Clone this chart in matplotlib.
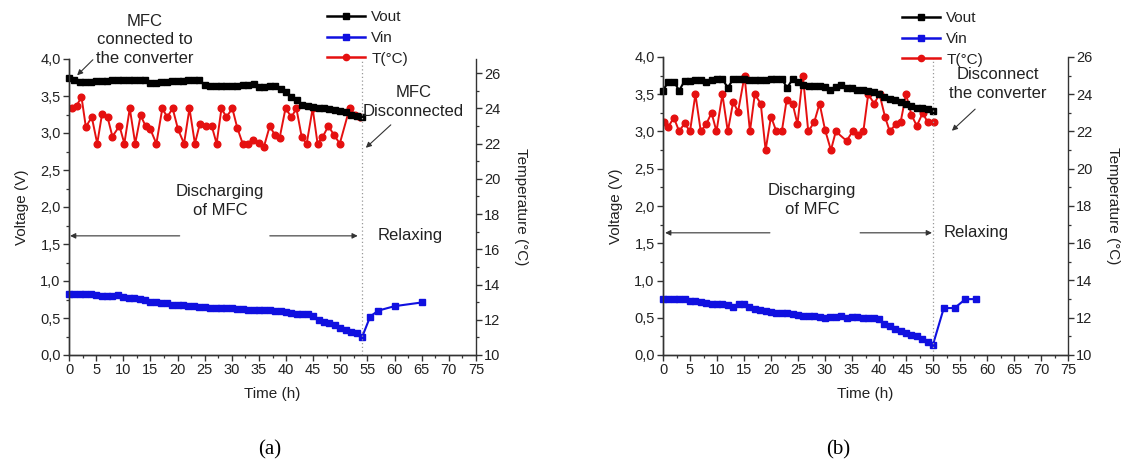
import matplotlib
matplotlib.use('Agg')
import matplotlib.pyplot as plt
from matplotlib.ticker import MultipleLocator, FuncFormatter
from matplotlib.lines import Line2D

plt.rcParams['font.family'] = ['Liberation Sans', 'DejaVu Sans']

# ---------------- data: panel (a) ----------------
a_t = list(range(0, 55))
a_vout = [3.74, 3.72, 3.69, 3.69, 3.69, 3.70, 3.70, 3.70, 3.71, 3.71,
          3.71, 3.71, 3.71, 3.72, 3.72, 3.68, 3.68, 3.69, 3.69, 3.70,
          3.70, 3.70, 3.71, 3.71, 3.71, 3.65, 3.63, 3.63, 3.63, 3.64,
          3.64, 3.64, 3.65, 3.65, 3.66, 3.62, 3.62, 3.63, 3.63, 3.60,
          3.55, 3.49, 3.44, 3.38, 3.36, 3.35, 3.34, 3.34, 3.32, 3.31,
          3.30, 3.28, 3.25, 3.23, 3.21]
a_vin_t = a_t + [55.5, 57, 60, 65]
a_vin = [0.82, 0.82, 0.82, 0.82, 0.82, 0.81, 0.80, 0.80, 0.80, 0.81,
         0.78, 0.77, 0.77, 0.76, 0.75, 0.72, 0.71, 0.70, 0.70, 0.68,
         0.67, 0.67, 0.66, 0.66, 0.65, 0.65, 0.64, 0.64, 0.64, 0.63,
         0.63, 0.62, 0.62, 0.61, 0.61, 0.61, 0.61, 0.61, 0.60, 0.59,
         0.58, 0.57, 0.56, 0.56, 0.55, 0.53, 0.47, 0.45, 0.43, 0.40,
         0.37, 0.34, 0.31, 0.30, 0.24,
         0.52, 0.60, 0.66, 0.71]
a_temp_t = [0.5, 1.4, 2.3, 3.1, 4.2, 5.2, 6.1, 7.1, 8.0, 9.3,
            10.2, 11.2, 12.2, 13.2, 14.1, 15.0, 16.1, 17.2, 18.1, 19.1,
            20.1, 21.2, 22.2, 23.2, 24.1, 25.2, 26.3, 27.2, 28.1, 29.0,
            30.1, 31.0, 32.0, 33.0, 33.9, 35.0, 35.9, 37.0, 37.9, 38.8,
            39.9, 41.0, 41.9, 42.9, 43.8, 44.9, 45.8, 46.7, 47.8, 48.8,
            49.9, 51.7, 52.7, 53.7]
a_temp = [24.0, 24.15, 24.65, 22.95, 23.5, 22.0, 23.7, 23.5, 22.4, 23.0,
          22.0, 24.0, 22.0, 23.6, 23.0, 22.8, 22.0, 24.0, 23.5, 24.0,
          22.8, 22.0, 24.0, 22.0, 23.1, 23.0, 23.0, 22.0, 24.0, 23.5,
          24.0, 22.9, 22.0, 22.0, 22.2, 22.05, 21.8, 23.0, 22.5, 22.3,
          24.0, 23.5, 24.0, 22.35, 22.0, 24.0, 22.0, 22.35, 23.0, 22.5,
          22.0, 24.0, 23.65, 23.5]

# ---------------- data: panel (b) ----------------
b_t = list(range(0, 51))
b_vout = [3.55, 3.67, 3.67, 3.55, 3.68, 3.68, 3.69, 3.69, 3.66, 3.69,
          3.70, 3.70, 3.59, 3.70, 3.70, 3.70, 3.69, 3.69, 3.69, 3.69,
          3.70, 3.70, 3.70, 3.59, 3.70, 3.67, 3.62, 3.61, 3.61, 3.61,
          3.60, 3.56, 3.60, 3.62, 3.58, 3.58, 3.56, 3.56, 3.54, 3.53,
          3.50, 3.46, 3.44, 3.42, 3.40, 3.37, 3.34, 3.32, 3.31, 3.30,
          3.27]
b_vin_t = b_t + [52, 54, 56, 58]
b_vin = [0.75, 0.75, 0.75, 0.75, 0.75, 0.73, 0.72, 0.71, 0.70, 0.68,
         0.68, 0.68, 0.67, 0.65, 0.69, 0.68, 0.65, 0.62, 0.61, 0.59,
         0.58, 0.57, 0.565, 0.56, 0.55, 0.54, 0.53, 0.53, 0.53, 0.51,
         0.50, 0.51, 0.51, 0.52, 0.50, 0.51, 0.51, 0.50, 0.50, 0.49,
         0.48, 0.42, 0.39, 0.35, 0.32, 0.30, 0.27, 0.25, 0.21, 0.18,
         0.14,
         0.63, 0.63, 0.75, 0.75]
b_temp_t = [0.2, 1.0, 2.0, 3.0, 4.0, 5.0, 6.0, 7.0, 8.0, 9.0,
            9.9, 11.0, 12.0, 13.0, 13.9, 15.1, 16.1, 17.0, 18.1, 19.0,
            20.0, 21.0, 22.0, 22.9, 24.0, 24.9, 25.9, 26.9, 28.0, 29.0,
            30.0, 31.1, 32.0, 34.0, 35.1, 36.1, 37.1, 38.0, 39.1, 40.1,
            41.1, 42.0, 43.1, 44.0, 45.0, 46.0, 47.0, 48.1, 49.0, 50.1]
b_temp = [22.5, 22.25, 22.75, 22.0, 22.45, 22.0, 24.0, 22.0, 22.4, 23.0,
          22.0, 24.0, 22.0, 23.6, 23.05, 25.0, 22.0, 24.0, 23.5, 21.0,
          22.8, 22.0, 22.0, 23.7, 23.5, 22.4, 25.0, 22.0, 22.5, 23.5,
          22.1, 21.0, 22.0, 21.5, 22.0, 21.8, 22.0, 24.0, 23.5, 24.0,
          22.8, 22.0, 22.4, 22.5, 24.0, 22.9, 22.3, 23.0, 22.5, 22.5]

W, H = 1145, 467
fig = plt.figure(figsize=(W / 100, H / 100), dpi=100)

comma = FuncFormatter(lambda v, p: f"{v:.1f}".replace('.', ','))
TXT = '#222222'


def make_panel(rect, t_v, vout, t_in, vin, t_temp, temp, t_cut, tmax):
    ax = fig.add_axes(rect)
    ax2 = ax.twinx()
    ax.set_zorder(ax2.get_zorder() + 1)
    ax.patch.set_visible(False)

    ax.plot(t_v, vout, '-s', color='black', ms=4.5, lw=1.5, clip_on=False)
    ax.plot(t_in, vin, '-s', color='#1010e0', ms=4.5, lw=1.5, clip_on=False)
    ax2.plot(t_temp, temp, '-o', color='#e51010', ms=4.8, lw=1.4)

    ax.axvline(t_cut, color='#999999', lw=0.9, ls=(0, (1, 2)))

    ax.set_xlim(0, 75)
    ax.set_ylim(0, 4.0)
    ax2.set_ylim(10, tmax)

    ax.xaxis.set_major_locator(MultipleLocator(5))
    ax.xaxis.set_minor_locator(MultipleLocator(2.5))
    ax.yaxis.set_major_locator(MultipleLocator(0.5))
    ax.yaxis.set_minor_locator(MultipleLocator(0.25))
    ax.yaxis.set_major_formatter(comma)
    ax2.yaxis.set_major_locator(MultipleLocator(2))
    ax2.yaxis.set_minor_locator(MultipleLocator(1))

    for a in (ax, ax2):
        a.spines['top'].set_visible(False)
        for s in a.spines.values():
            s.set_color('#333333')
            s.set_linewidth(1.0)
        a.tick_params(which='major', length=4, width=1.0, color='#333333',
                      labelsize=10.5, labelcolor=TXT, pad=2)
        a.tick_params(which='minor', length=2.5, width=0.9, color='#333333')
    ax.spines['right'].set_visible(False)

    ax.set_xlabel('Time (h)', fontsize=11, labelpad=7, color=TXT)
    ax.set_ylabel('Voltage (V)', fontsize=11, labelpad=8, color=TXT)
    ax2.set_ylabel('Temperature (°C)', fontsize=11, rotation=-90,
                   labelpad=20, color=TXT)
    return ax, ax2


def note(ax, x, y, s):
    ax.text(x, y, s, ha='center', va='center', fontsize=12, linespacing=1.3,
            color=TXT)


def arrow(ax, start, end):
    ax.annotate('', xy=end, xytext=start, annotation_clip=False,
                arrowprops=dict(arrowstyle='-|>', color='#333333', lw=0.8,
                                mutation_scale=8, shrinkA=0, shrinkB=0))


def legend(ax, x, y):
    handles = [Line2D([], [], color='black', marker='s', ms=4.5, lw=1.8),
               Line2D([], [], color='#1010e0', marker='s', ms=4.5, lw=1.8),
               Line2D([], [], color='#e51010', marker='o', ms=4.5, lw=1.8)]
    ax.legend(handles, ['Vout', 'Vin', 'T(°C)'], loc='upper left',
              bbox_to_anchor=(x / W, 1 - y / H), bbox_transform=fig.transFigure,
              frameon=False, fontsize=11, handlelength=2.5, handletextpad=0.4,
              labelspacing=0.45, borderpad=0, borderaxespad=0,
              labelcolor=TXT)


# ---------------- panel (a) ----------------
axa, axa2 = make_panel([69 / W, 112 / H, 407 / W, 296 / H],
                       a_t, a_vout, a_vin_t, a_vin, a_temp_t, a_temp, 54, 26.8)
legend(axa, 327, 10)
note(axa, 14, 4.26, 'MFC\nconnected to\nthe converter')
arrow(axa, (4.4, 3.99), (1.5, 3.78))
note(axa, 63.5, 3.42, 'MFC\nDisconnected')
arrow(axa, (59.3, 3.11), (54.7, 2.80))
note(axa, 27.8, 2.08, 'Discharging\nof MFC')
arrow(axa, (20.4, 1.61), (0.2, 1.61))
arrow(axa, (37.0, 1.61), (53.2, 1.61))
note(axa, 62.8, 1.61, 'Relaxing')

# ---------------- panel (b) ----------------
axb, axb2 = make_panel([663 / W, 112 / H, 405 / W, 298 / H],
                       b_t, b_vout, b_vin_t, b_vin, b_temp_t, b_temp, 50, 26)
legend(axb, 902, 11)
note(axb, 62, 3.64, 'Disconnect\nthe converter')
arrow(axb, (57.8, 3.30), (53.5, 3.01))
note(axb, 27.6, 2.08, 'Discharging\nof MFC')
arrow(axb, (19.8, 1.64), (0.4, 1.64))
arrow(axb, (36.5, 1.64), (49.8, 1.64))
note(axb, 58, 1.64, 'Relaxing')

fig.text(270 / W, 1 - 450 / H, '(a)', ha='center', va='center',
         fontsize=15, family='Liberation Serif')
fig.text(838 / W, 1 - 450 / H, '(b)', ha='center', va='center',
         fontsize=15, family='Liberation Serif')

fig.savefig('out.png', dpi=100)
